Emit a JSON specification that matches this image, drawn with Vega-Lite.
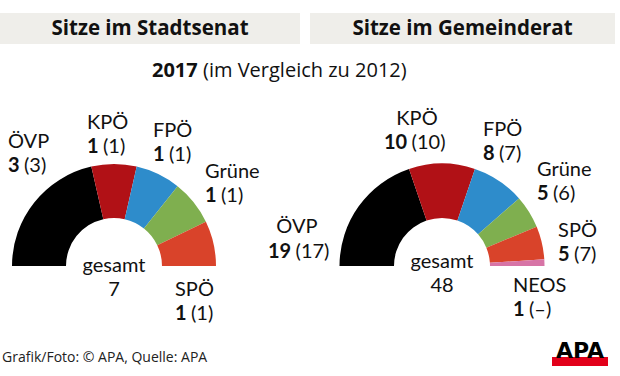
{
  "$schema": "https://vega.github.io/schema/vega-lite/v6.json",
  "width": 620,
  "height": 376,
  "autosize": {"type": "fit", "contains": "padding"},
  "padding": 0,
  "background": "white",
  "config": {
    "view": {"stroke": null},
    "text": {"font": "Lato", "fontSize": 20, "baseline": "middle", "color": "#111111", "align": "left"}
  },
  "datasets": {
    "senat": [
      {"party": "ÖVP", "seats": 3, "prev": "3"},
      {"party": "KPÖ", "seats": 1, "prev": "1"},
      {"party": "FPÖ", "seats": 1, "prev": "1"},
      {"party": "Grüne", "seats": 1, "prev": "1"},
      {"party": "SPÖ", "seats": 1, "prev": "1"}
    ],
    "rat": [
      {"party": "ÖVP", "seats": 19, "prev": "17"},
      {"party": "KPÖ", "seats": 10, "prev": "10"},
      {"party": "FPÖ", "seats": 8, "prev": "7"},
      {"party": "Grüne", "seats": 5, "prev": "6"},
      {"party": "SPÖ", "seats": 5, "prev": "7"},
      {"party": "NEOS", "seats": 1, "prev": "–"}
    ]
  },
  "resolve": {"scale": {"theta": "independent"}},
  "layer": [
    {
      "data": {"values": [{"t": "Sitze im Stadtsenat"}]},
      "layer": [
        {"mark": {"type": "rect", "x": 0, "x2": 300, "y": 13, "y2": 44, "color": "#efeeea"}, "encoding": {}},
        {"mark": {"type": "text", "x": 150, "y": 29, "align": "center", "font": "Open Sans", "fontWeight": "bold", "fontSize": 20.5}, "encoding": {"text": {"field": "t", "type": "nominal"}}}
      ]
    },
    {
      "data": {"values": [{"t": "Sitze im Gemeinderat"}]},
      "layer": [
        {"mark": {"type": "rect", "x": 310, "x2": 615, "y": 13, "y2": 44, "color": "#efeeea"}, "encoding": {}},
        {"mark": {"type": "text", "x": 462.5, "y": 29, "align": "center", "font": "Open Sans", "fontWeight": "bold", "fontSize": 20.5}, "encoding": {"text": {"field": "t", "type": "nominal"}}}
      ]
    },
    {
      "data": {"values": [{"year": "2017", "rest": "(im Vergleich zu 2012)"}]},
      "layer": [
        {"mark": {"type": "text", "x": 152, "y": 71, "font": "Open Sans", "fontWeight": "bold", "fontSize": 20}, "encoding": {"text": {"field": "year", "type": "nominal"}}},
        {"mark": {"type": "text", "x": 203, "y": 71, "font": "Open Sans", "fontSize": 20}, "encoding": {"text": {"field": "rest", "type": "nominal"}}}
      ]
    },
    {
      "data": {"values": [{"t": "Grafik/Foto: © APA, Quelle: APA", "logo": "APA"}]},
      "layer": [
        {"mark": {"type": "text", "x": 2, "y": 358, "font": "Open Sans", "fontSize": 14, "color": "#222222"}, "encoding": {"text": {"field": "t", "type": "nominal"}}},
        {"mark": {"type": "rect", "x": 552, "x2": 608, "y": 357, "y2": 366, "color": "#e2001a"}, "encoding": {}},
        {"mark": {"type": "text", "x": 580, "y": 358, "align": "center", "baseline": "alphabetic", "font": "DejaVu Sans", "fontWeight": "bold", "fontSize": 22, "color": "#000000"}, "encoding": {"text": {"field": "logo", "type": "nominal"}}}
      ]
    },
    {
      "data": {"name": "senat"},
      "transform": [
        {"stack": "seats", "groupby": [], "as": ["s0", "s1"]},
        {"calculate": "(datum.s0 + datum.s1) / 2", "as": "mid"},
        {"calculate": "'' + datum.seats", "as": "numBold"},
        {"calculate": "'(' + datum.prev + ')'", "as": "prevTxt"}
      ],
      "layer": [
        {
          "mark": {"type": "arc", "x": 114, "y": 266, "innerRadius": 48, "outerRadius": 102},
          "encoding": {
            "theta": {"field": "seats", "type": "quantitative", "stack": true, "scale": {"range": [-1.5707963, 1.5707963], "zero": true, "nice": false}},
            "order": {"field": "s0", "type": "quantitative"},
            "color": {"field": "party", "type": "nominal", "legend": null, "scale": {"domain": ["ÖVP", "KPÖ", "FPÖ", "Grüne", "SPÖ", "NEOS"], "range": ["#000000", "#b11116", "#2e8ccb", "#7faf4f", "#d9432a", "#d774a6"]}}
          }
        },
        {"transform": [{"filter": "datum.party === 'ÖVP'"}], "layer": [
          {"mark": {"type": "text", "x": 114, "y": 266, "radius": 154.2, "thetaOffset": 0.1396, "dy": -12}, "encoding": {"theta": {"field": "mid", "type": "quantitative", "stack": null}, "text": {"field": "party", "type": "nominal"}}},
          {"mark": {"type": "text", "x": 114, "y": 266, "radius": 154.2, "thetaOffset": 0.1396, "dy": 12, "fontWeight": "bold"}, "encoding": {"theta": {"field": "mid", "type": "quantitative", "stack": null}, "text": {"field": "numBold", "type": "nominal"}}},
          {"mark": {"type": "text", "x": 114, "y": 266, "radius": 154.2, "thetaOffset": 0.1396, "dy": 12, "dx": 16}, "encoding": {"theta": {"field": "mid", "type": "quantitative", "stack": null}, "text": {"field": "prevTxt", "type": "nominal"}}}
        ]},
        {"transform": [{"filter": "datum.party === 'KPÖ'"}], "layer": [
          {"mark": {"type": "text", "x": 114, "y": 266, "radius": 134.0, "thetaOffset": -0.2029, "dy": -12}, "encoding": {"theta": {"field": "mid", "type": "quantitative", "stack": null}, "text": {"field": "party", "type": "nominal"}}},
          {"mark": {"type": "text", "x": 114, "y": 266, "radius": 134.0, "thetaOffset": -0.2029, "dy": 12, "fontWeight": "bold"}, "encoding": {"theta": {"field": "mid", "type": "quantitative", "stack": null}, "text": {"field": "numBold", "type": "nominal"}}},
          {"mark": {"type": "text", "x": 114, "y": 266, "radius": 134.0, "thetaOffset": -0.2029, "dy": 12, "dx": 16}, "encoding": {"theta": {"field": "mid", "type": "quantitative", "stack": null}, "text": {"field": "prevTxt", "type": "nominal"}}}
        ]},
        {"transform": [{"filter": "datum.party === 'FPÖ'"}], "layer": [
          {"mark": {"type": "text", "x": 114, "y": 266, "radius": 128.8, "thetaOffset": -0.1411, "dy": -12}, "encoding": {"theta": {"field": "mid", "type": "quantitative", "stack": null}, "text": {"field": "party", "type": "nominal"}}},
          {"mark": {"type": "text", "x": 114, "y": 266, "radius": 128.8, "thetaOffset": -0.1411, "dy": 12, "fontWeight": "bold"}, "encoding": {"theta": {"field": "mid", "type": "quantitative", "stack": null}, "text": {"field": "numBold", "type": "nominal"}}},
          {"mark": {"type": "text", "x": 114, "y": 266, "radius": 128.8, "thetaOffset": -0.1411, "dy": 12, "dx": 16}, "encoding": {"theta": {"field": "mid", "type": "quantitative", "stack": null}, "text": {"field": "prevTxt", "type": "nominal"}}}
        ]},
        {"transform": [{"filter": "datum.party === 'Grüne'"}], "layer": [
          {"mark": {"type": "text", "x": 114, "y": 266, "radius": 122.5, "thetaOffset": -0.0602, "dy": -12}, "encoding": {"theta": {"field": "mid", "type": "quantitative", "stack": null}, "text": {"field": "party", "type": "nominal"}}},
          {"mark": {"type": "text", "x": 114, "y": 266, "radius": 122.5, "thetaOffset": -0.0602, "dy": 12, "fontWeight": "bold"}, "encoding": {"theta": {"field": "mid", "type": "quantitative", "stack": null}, "text": {"field": "numBold", "type": "nominal"}}},
          {"mark": {"type": "text", "x": 114, "y": 266, "radius": 122.5, "thetaOffset": -0.0602, "dy": 12, "dx": 16}, "encoding": {"theta": {"field": "mid", "type": "quantitative", "stack": null}, "text": {"field": "prevTxt", "type": "nominal"}}}
        ]},
        {"transform": [{"filter": "datum.party === 'SPÖ'"}], "layer": [
          {"mark": {"type": "text", "x": 114, "y": 266, "radius": 70.6, "thetaOffset": 0.7515, "dy": -12}, "encoding": {"theta": {"field": "mid", "type": "quantitative", "stack": null}, "text": {"field": "party", "type": "nominal"}}},
          {"mark": {"type": "text", "x": 114, "y": 266, "radius": 70.6, "thetaOffset": 0.7515, "dy": 12, "fontWeight": "bold"}, "encoding": {"theta": {"field": "mid", "type": "quantitative", "stack": null}, "text": {"field": "numBold", "type": "nominal"}}},
          {"mark": {"type": "text", "x": 114, "y": 266, "radius": 70.6, "thetaOffset": 0.7515, "dy": 12, "dx": 16}, "encoding": {"theta": {"field": "mid", "type": "quantitative", "stack": null}, "text": {"field": "prevTxt", "type": "nominal"}}}
        ]},
        {
          "transform": [
            {"aggregate": [{"op": "sum", "field": "seats", "as": "total"}]},
            {"calculate": "['gesamt', '' + datum.total]", "as": "gtxt"}
          ],
          "mark": {"type": "text", "x": 114, "y": 266, "align": "center", "lineHeight": 24},
          "encoding": {"text": {"field": "gtxt", "type": "nominal"}}
        }
      ]
    },
    {
      "data": {"name": "rat"},
      "transform": [
        {"stack": "seats", "groupby": [], "as": ["s0", "s1"]},
        {"calculate": "(datum.s0 + datum.s1) / 2", "as": "mid"},
        {"calculate": "'' + datum.seats", "as": "numBold"},
        {"calculate": "'(' + datum.prev + ')'", "as": "prevTxt"}
      ],
      "layer": [
        {
          "mark": {"type": "arc", "x": 442, "y": 266, "innerRadius": 48, "outerRadius": 102.5},
          "encoding": {
            "theta": {"field": "seats", "type": "quantitative", "stack": true, "scale": {"range": [-1.5707963, 1.5707963], "zero": true, "nice": false}},
            "order": {"field": "s0", "type": "quantitative"},
            "color": {"field": "party", "type": "nominal", "legend": null, "scale": {"domain": ["ÖVP", "KPÖ", "FPÖ", "Grüne", "SPÖ", "NEOS"], "range": ["#000000", "#b11116", "#2e8ccb", "#7faf4f", "#d9432a", "#d774a6"]}}
          }
        },
        {"transform": [{"filter": "datum.party === 'ÖVP'"}], "layer": [
          {"mark": {"type": "text", "x": 442, "y": 266, "radius": 150.2, "thetaOffset": -0.3591, "align": "center"}, "encoding": {"theta": {"field": "mid", "type": "quantitative", "stack": null}, "text": {"field": "party", "type": "nominal"}}},
          {"mark": {"type": "text", "x": 442, "y": 266, "radius": 174.6, "thetaOffset": -0.5415, "fontWeight": "bold"}, "encoding": {"theta": {"field": "mid", "type": "quantitative", "stack": null}, "text": {"field": "numBold", "type": "nominal"}}},
          {"mark": {"type": "text", "x": 442, "y": 266, "radius": 174.6, "thetaOffset": -0.5415, "dx": 27.6}, "encoding": {"theta": {"field": "mid", "type": "quantitative", "stack": null}, "text": {"field": "prevTxt", "type": "nominal"}}}
        ]},
        {"transform": [{"filter": "datum.party === 'KPÖ'"}], "layer": [
          {"mark": {"type": "text", "x": 442, "y": 266, "radius": 149.1, "thetaOffset": -0.1684, "align": "center"}, "encoding": {"theta": {"field": "mid", "type": "quantitative", "stack": null}, "text": {"field": "party", "type": "nominal"}}},
          {"mark": {"type": "text", "x": 442, "y": 266, "radius": 136.4, "thetaOffset": -0.4391, "fontWeight": "bold"}, "encoding": {"theta": {"field": "mid", "type": "quantitative", "stack": null}, "text": {"field": "numBold", "type": "nominal"}}},
          {"mark": {"type": "text", "x": 442, "y": 266, "radius": 136.4, "thetaOffset": -0.4391, "dx": 27.6}, "encoding": {"theta": {"field": "mid", "type": "quantitative", "stack": null}, "text": {"field": "prevTxt", "type": "nominal"}}}
        ]},
        {"transform": [{"filter": "datum.party === 'FPÖ'"}], "layer": [
          {"mark": {"type": "text", "x": 442, "y": 266, "radius": 130.6, "thetaOffset": -0.2697, "dy": -12}, "encoding": {"theta": {"field": "mid", "type": "quantitative", "stack": null}, "text": {"field": "party", "type": "nominal"}}},
          {"mark": {"type": "text", "x": 442, "y": 266, "radius": 130.6, "thetaOffset": -0.2697, "dy": 12, "fontWeight": "bold"}, "encoding": {"theta": {"field": "mid", "type": "quantitative", "stack": null}, "text": {"field": "numBold", "type": "nominal"}}},
          {"mark": {"type": "text", "x": 442, "y": 266, "radius": 130.6, "thetaOffset": -0.2697, "dy": 12, "dx": 16}, "encoding": {"theta": {"field": "mid", "type": "quantitative", "stack": null}, "text": {"field": "prevTxt", "type": "nominal"}}}
        ]},
        {"transform": [{"filter": "datum.party === 'Grüne'"}], "layer": [
          {"mark": {"type": "text", "x": 442, "y": 266, "radius": 127.1, "thetaOffset": -0.1706, "dy": -12}, "encoding": {"theta": {"field": "mid", "type": "quantitative", "stack": null}, "text": {"field": "party", "type": "nominal"}}},
          {"mark": {"type": "text", "x": 442, "y": 266, "radius": 127.1, "thetaOffset": -0.1706, "dy": 12, "fontWeight": "bold"}, "encoding": {"theta": {"field": "mid", "type": "quantitative", "stack": null}, "text": {"field": "numBold", "type": "nominal"}}},
          {"mark": {"type": "text", "x": 442, "y": 266, "radius": 127.1, "thetaOffset": -0.1706, "dy": 12, "dx": 16}, "encoding": {"theta": {"field": "mid", "type": "quantitative", "stack": null}, "text": {"field": "prevTxt", "type": "nominal"}}}
        ]},
        {"transform": [{"filter": "datum.party === 'SPÖ'"}], "layer": [
          {"mark": {"type": "text", "x": 442, "y": 266, "radius": 118.2, "thetaOffset": 0.0374, "dy": -12}, "encoding": {"theta": {"field": "mid", "type": "quantitative", "stack": null}, "text": {"field": "party", "type": "nominal"}}},
          {"mark": {"type": "text", "x": 442, "y": 266, "radius": 118.2, "thetaOffset": 0.0374, "dy": 12, "fontWeight": "bold"}, "encoding": {"theta": {"field": "mid", "type": "quantitative", "stack": null}, "text": {"field": "numBold", "type": "nominal"}}},
          {"mark": {"type": "text", "x": 442, "y": 266, "radius": 118.2, "thetaOffset": 0.0374, "dy": 12, "dx": 16}, "encoding": {"theta": {"field": "mid", "type": "quantitative", "stack": null}, "text": {"field": "prevTxt", "type": "nominal"}}}
        ]},
        {"transform": [{"filter": "datum.party === 'NEOS'"}], "layer": [
          {"mark": {"type": "text", "x": 442, "y": 266, "radius": 77.9, "thetaOffset": 0.4561, "dy": -12}, "encoding": {"theta": {"field": "mid", "type": "quantitative", "stack": null}, "text": {"field": "party", "type": "nominal"}}},
          {"mark": {"type": "text", "x": 442, "y": 266, "radius": 77.9, "thetaOffset": 0.4561, "dy": 12, "fontWeight": "bold"}, "encoding": {"theta": {"field": "mid", "type": "quantitative", "stack": null}, "text": {"field": "numBold", "type": "nominal"}}},
          {"mark": {"type": "text", "x": 442, "y": 266, "radius": 77.9, "thetaOffset": 0.4561, "dy": 12, "dx": 16}, "encoding": {"theta": {"field": "mid", "type": "quantitative", "stack": null}, "text": {"field": "prevTxt", "type": "nominal"}}}
        ]},
        {
          "transform": [
            {"aggregate": [{"op": "sum", "field": "seats", "as": "total"}]},
            {"calculate": "['gesamt', '' + datum.total]", "as": "gtxt"}
          ],
          "mark": {"type": "text", "x": 442, "y": 262, "align": "center", "lineHeight": 24},
          "encoding": {"text": {"field": "gtxt", "type": "nominal"}}
        }
      ]
    }
  ]
}
